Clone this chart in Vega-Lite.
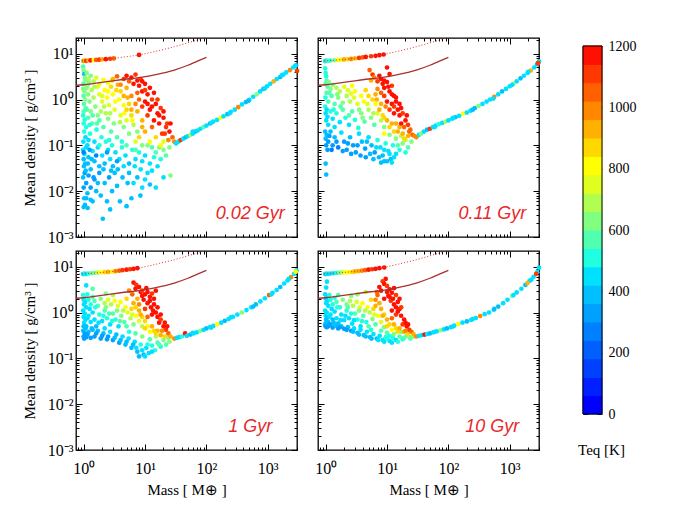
{
"$schema":"https://vega.github.io/schema/vega-lite/v6.json",
"padding":{"left":21,"top":31,"right":5,"bottom":5},
"background":"white",
"datasets":{
"bins":[
{"lo":0,"hi":60,"c":30},{"lo":60,"hi":120,"c":90},{"lo":120,"hi":180,"c":150},{"lo":180,"hi":240,"c":210},{"lo":240,"hi":300,"c":270},{"lo":300,"hi":360,"c":330},{"lo":360,"hi":420,"c":390},{"lo":420,"hi":480,"c":450},{"lo":480,"hi":540,"c":510},{"lo":540,"hi":600,"c":570},{"lo":600,"hi":660,"c":630},{"lo":660,"hi":720,"c":690},{"lo":720,"hi":780,"c":750},{"lo":780,"hi":840,"c":810},{"lo":840,"hi":900,"c":870},{"lo":900,"hi":960,"c":930},{"lo":960,"hi":1020,"c":990},{"lo":1020,"hi":1080,"c":1050},{"lo":1080,"hi":1140,"c":1110},{"lo":1140,"hi":1200,"c":1170}
],
"lines":[
{"k":"s","m":0.75,"d":2.05},{"k":"s","m":1,"d":2.1},{"k":"s","m":1.5,"d":2.25},{"k":"s","m":2.4,"d":2.45},{"k":"s","m":4,"d":2.7},{"k":"s","m":8.5,"d":3.05},{"k":"s","m":15,"d":3.5},{"k":"s","m":30,"d":4.4},{"k":"s","m":50,"d":5.6},{"k":"s","m":70,"d":6.8},{"k":"s","m":100,"d":8.3},
{"k":"o","m":0.75,"d":6.8},{"k":"o","m":1,"d":7.0},{"k":"o","m":2,"d":7.5},{"k":"o","m":3,"d":7.9},{"k":"o","m":5,"d":8.6},{"k":"o","m":8,"d":9.4},{"k":"o","m":15,"d":11.3},{"k":"o","m":30,"d":14.2},{"k":"o","m":50,"d":17.3},{"k":"o","m":72,"d":20},{"k":"o","m":100,"d":23.5}
],
"pts":[
{"p":1,"m":0.98,"d":6.9,"t":650},{"p":1,"m":1.0,"d":7.0,"t":1000},{"p":1,"m":1.05,"d":7.0,"t":900},{"p":1,"m":1.1,"d":7.0,"t":1100},{"p":1,"m":1.2,"d":7.1,"t":950},{"p":1,"m":1.3,"d":7.15,"t":1150},{"p":1,"m":1.45,"d":7.25,"t":800},{"p":1,"m":1.6,"d":7.3,"t":1050},{"p":1,"m":1.8,"d":7.4,"t":1100},{"p":1,"m":2.0,"d":7.5,"t":900},{"p":1,"m":2.3,"d":7.6,"t":1150},{"p":1,"m":2.7,"d":7.75,"t":1100},{"p":1,"m":3.1,"d":7.9,"t":1050},{"p":1,"m":8.0,"d":9.4,"t":1150},
{"p":1,"m":0.98,"d":5.2,"t":550},{"p":1,"m":1.0,"d":4.3,"t":650},{"p":1,"m":1.02,"d":3.6,"t":400},{"p":1,"m":1.05,"d":3.0,"t":620},{"p":1,"m":1.08,"d":2.6,"t":600},{"p":1,"m":1.12,"d":3.8,"t":650},{"p":1,"m":1.2,"d":2.8,"t":700},{"p":1,"m":1.3,"d":3.3,"t":650},{"p":1,"m":1.45,"d":2.5,"t":700},{"p":1,"m":1.6,"d":3.0,"t":750},{"p":1,"m":1.8,"d":2.2,"t":720},{"p":1,"m":2.1,"d":2.7,"t":780},{"p":1,"m":2.5,"d":2.3,"t":800},{"p":1,"m":0.99,"d":2.2,"t":580},{"p":1,"m":1.15,"d":2.0,"t":600},{"p":1,"m":2.9,"d":2.6,"t":850},
{"p":1,"m":0.98,"d":1.7,"t":600},{"p":1,"m":1.0,"d":1.2,"t":580},{"p":1,"m":1.01,"d":0.8,"t":560},{"p":1,"m":1.03,"d":1.5,"t":620},{"p":1,"m":1.05,"d":1.0,"t":600},{"p":1,"m":1.08,"d":0.65,"t":560},{"p":1,"m":1.12,"d":1.8,"t":650},{"p":1,"m":1.18,"d":1.3,"t":640},{"p":1,"m":1.25,"d":0.9,"t":620},{"p":1,"m":1.35,"d":1.6,"t":700},{"p":1,"m":1.45,"d":1.1,"t":680},{"p":1,"m":1.55,"d":0.7,"t":640},{"p":1,"m":1.7,"d":1.9,"t":760},{"p":1,"m":1.8,"d":1.3,"t":740},{"p":1,"m":2.0,"d":0.9,"t":720},{"p":1,"m":2.2,"d":1.6,"t":800},{"p":1,"m":2.4,"d":1.1,"t":780},{"p":1,"m":2.6,"d":0.75,"t":720},{"p":1,"m":2.8,"d":1.9,"t":850},{"p":1,"m":3.0,"d":1.3,"t":820},{"p":1,"m":3.3,"d":0.9,"t":780},{"p":1,"m":1.0,"d":0.55,"t":540},{"p":1,"m":1.3,"d":0.55,"t":600},{"p":1,"m":1.9,"d":0.55,"t":680},{"p":1,"m":2.3,"d":0.5,"t":700},{"p":1,"m":3.6,"d":2.1,"t":900},{"p":1,"m":4.0,"d":1.5,"t":880},{"p":1,"m":3.8,"d":1.0,"t":830},{"p":1,"m":4.5,"d":0.75,"t":820},{"p":1,"m":5.2,"d":1.1,"t":900},
{"p":1,"m":0.98,"d":0.45,"t":520},{"p":1,"m":1.0,"d":0.3,"t":500},{"p":1,"m":1.02,"d":0.2,"t":480},{"p":1,"m":1.04,"d":0.36,"t":530},{"p":1,"m":1.07,"d":0.15,"t":470},{"p":1,"m":1.1,"d":0.25,"t":510},{"p":1,"m":1.18,"d":0.4,"t":560},{"p":1,"m":1.27,"d":0.18,"t":480},{"p":1,"m":1.38,"d":0.3,"t":540},{"p":1,"m":1.5,"d":0.12,"t":460},{"p":1,"m":1.62,"d":0.22,"t":520},{"p":1,"m":1.8,"d":0.35,"t":580},{"p":1,"m":1.95,"d":0.15,"t":500},{"p":1,"m":2.1,"d":0.25,"t":560},{"p":1,"m":2.3,"d":0.12,"t":480},{"p":1,"m":2.5,"d":0.38,"t":640},{"p":1,"m":2.8,"d":0.2,"t":560},{"p":1,"m":3.1,"d":0.3,"t":620},{"p":1,"m":3.5,"d":0.15,"t":540},{"p":1,"m":4.0,"d":0.45,"t":720},{"p":1,"m":4.5,"d":0.25,"t":650},{"p":1,"m":5.0,"d":0.35,"t":720},{"p":1,"m":5.5,"d":0.18,"t":600},{"p":1,"m":6.5,"d":0.28,"t":700},{"p":1,"m":7.5,"d":0.2,"t":650},{"p":1,"m":0.99,"d":0.12,"t":440},{"p":1,"m":1.15,"d":0.1,"t":450},{"p":1,"m":1.25,"d":0.28,"t":520},{"p":1,"m":1.7,"d":0.45,"t":620},{"p":1,"m":2.6,"d":0.13,"t":500},{"p":1,"m":4.2,"d":0.12,"t":520},
{"p":1,"m":0.98,"d":0.08,"t":420},{"p":1,"m":1.0,"d":0.05,"t":400},{"p":1,"m":1.01,"d":0.035,"t":380},{"p":1,"m":1.03,"d":0.065,"t":430},{"p":1,"m":1.06,"d":0.04,"t":390},{"p":1,"m":1.1,"d":0.09,"t":440},{"p":1,"m":1.2,"d":0.055,"t":410},{"p":1,"m":1.3,"d":0.03,"t":370},{"p":1,"m":1.4,"d":0.075,"t":430},{"p":1,"m":1.5,"d":0.045,"t":400},{"p":1,"m":1.7,"d":0.09,"t":450},{"p":1,"m":1.8,"d":0.035,"t":380},{"p":1,"m":2.0,"d":0.06,"t":420},{"p":1,"m":2.2,"d":0.04,"t":390},{"p":1,"m":2.5,"d":0.08,"t":440},{"p":1,"m":2.7,"d":0.05,"t":420},{"p":1,"m":3.0,"d":0.035,"t":380},{"p":1,"m":3.3,"d":0.07,"t":450},{"p":1,"m":3.8,"d":0.05,"t":420},{"p":1,"m":4.2,"d":0.09,"t":480},{"p":1,"m":4.8,"d":0.06,"t":440},{"p":1,"m":5.5,"d":0.04,"t":400},{"p":1,"m":6.2,"d":0.08,"t":480},{"p":1,"m":7.0,"d":0.05,"t":430},{"p":1,"m":8.0,"d":0.07,"t":480},{"p":1,"m":9.0,"d":0.045,"t":420},{"p":1,"m":10,"d":0.06,"t":470},{"p":1,"m":12,"d":0.04,"t":430},{"p":1,"m":14,"d":0.055,"t":500},{"p":1,"m":16,"d":0.035,"t":420},{"p":1,"m":1.0,"d":0.07,"t":250},{"p":1,"m":1.25,"d":0.08,"t":300},{"p":1,"m":2.4,"d":0.07,"t":330},{"p":1,"m":1.6,"d":0.06,"t":280},{"p":1,"m":3.5,"d":0.045,"t":300},
{"p":1,"m":0.98,"d":0.02,"t":360},{"p":1,"m":1.0,"d":0.012,"t":330},{"p":1,"m":1.02,"d":0.007,"t":380},{"p":1,"m":1.04,"d":0.025,"t":350},{"p":1,"m":1.05,"d":0.005,"t":400},{"p":1,"m":1.1,"d":0.015,"t":340},{"p":1,"m":1.15,"d":0.009,"t":370},{"p":1,"m":1.2,"d":0.022,"t":300},{"p":1,"m":1.3,"d":0.012,"t":350},{"p":1,"m":1.4,"d":0.006,"t":390},{"p":1,"m":1.5,"d":0.018,"t":330},{"p":1,"m":1.6,"d":0.01,"t":370},{"p":1,"m":1.8,"d":0.025,"t":320},{"p":1,"m":1.9,"d":0.008,"t":380},{"p":1,"m":2.05,"d":0.0025,"t":400},{"p":1,"m":2.2,"d":0.015,"t":360},{"p":1,"m":2.4,"d":0.006,"t":410},{"p":1,"m":2.6,"d":0.02,"t":350},{"p":1,"m":2.9,"d":0.01,"t":380},{"p":1,"m":3.2,"d":0.025,"t":370},{"p":1,"m":3.5,"d":0.013,"t":400},{"p":1,"m":3.9,"d":0.006,"t":410},{"p":1,"m":4.3,"d":0.02,"t":380},{"p":1,"m":5.0,"d":0.0047,"t":400},{"p":1,"m":5.5,"d":0.025,"t":390},{"p":1,"m":6.5,"d":0.015,"t":420},{"p":1,"m":7.5,"d":0.02,"t":400},{"p":1,"m":8.4,"d":0.008,"t":400},{"p":1,"m":9,"d":0.012,"t":420},{"p":1,"m":11,"d":0.025,"t":430},{"p":1,"m":1.16,"d":0.0043,"t":390},{"p":1,"m":1.0,"d":0.0045,"t":400},{"p":1,"m":12,"d":0.014,"t":410},{"p":1,"m":15,"d":0.012,"t":430},{"p":1,"m":20,"d":0.02,"t":450},{"p":1,"m":26,"d":0.022,"t":600},{"p":1,"m":6,"d":0.007,"t":380},
{"p":1,"m":1.08,"d":0.028,"t":360},{"p":1,"m":1.17,"d":0.04,"t":380},{"p":1,"m":1.35,"d":0.05,"t":400},{"p":1,"m":1.45,"d":0.02,"t":350},{"p":1,"m":1.7,"d":0.015,"t":380},{"p":1,"m":2.1,"d":0.03,"t":360},{"p":1,"m":2.8,"d":0.028,"t":400},{"p":1,"m":3.6,"d":0.03,"t":380},{"p":1,"m":4.5,"d":0.035,"t":420},{"p":1,"m":5.2,"d":0.015,"t":400},{"p":1,"m":6.8,"d":0.035,"t":440},{"p":1,"m":8.5,"d":0.03,"t":430},{"p":1,"m":10,"d":0.018,"t":420},{"p":1,"m":13,"d":0.028,"t":460},{"p":1,"m":1.1,"d":0.007,"t":400},{"p":1,"m":1.3,"d":0.0065,"t":410},{"p":1,"m":2.7,"d":0.004,"t":400},
{"p":1,"m":1.2,"d":0.13,"t":470},{"p":1,"m":1.8,"d":0.1,"t":480},{"p":1,"m":2.9,"d":0.1,"t":500},{"p":1,"m":5,"d":0.1,"t":540},{"p":1,"m":7,"d":0.08,"t":560},{"p":1,"m":9,"d":0.1,"t":600},
{"p":1,"m":1.12,"d":0.6,"t":580},{"p":1,"m":1.22,"d":2.3,"t":640},{"p":1,"m":1.4,"d":0.45,"t":560},{"p":1,"m":1.5,"d":1.9,"t":700},{"p":1,"m":1.65,"d":0.3,"t":540},{"p":1,"m":2.0,"d":1.2,"t":740},{"p":1,"m":2.15,"d":0.7,"t":690},{"p":1,"m":2.5,"d":1.5,"t":820},{"p":1,"m":2.7,"d":0.5,"t":680},{"p":1,"m":3.2,"d":0.6,"t":740},{"p":1,"m":3.4,"d":1.6,"t":880},{"p":1,"m":3.9,"d":0.32,"t":680},{"p":1,"m":4.6,"d":0.5,"t":780},{"p":1,"m":5.5,"d":0.8,"t":880},{"p":1,"m":6.2,"d":0.35,"t":780},
{"p":1,"m":15,"d":0.07,"t":550},{"p":1,"m":18,"d":0.05,"t":500},{"p":1,"m":20,"d":0.08,"t":600},{"p":1,"m":22,"d":0.06,"t":550},{"p":1,"m":25,"d":0.09,"t":650},{"p":1,"m":17,"d":0.09,"t":600},{"p":1,"m":13,"d":0.09,"t":580},{"p":1,"m":11,"d":0.1,"t":620},
{"p":1,"m":8,"d":0.15,"t":850},{"p":1,"m":10,"d":0.2,"t":900},{"p":1,"m":12,"d":0.12,"t":800},{"p":1,"m":15,"d":0.15,"t":850},{"p":1,"m":18,"d":0.1,"t":800},{"p":1,"m":20,"d":0.12,"t":750},{"p":1,"m":7,"d":0.12,"t":750},{"p":1,"m":6,"d":0.45,"t":850},{"p":1,"m":9,"d":0.25,"t":900},{"p":1,"m":5,"d":0.6,"t":880},{"p":1,"m":7.5,"d":0.55,"t":900},{"p":1,"m":4.5,"d":1.2,"t":950},
{"p":1,"m":4.5,"d":2.8,"t":1100},{"p":1,"m":5,"d":3.3,"t":1150},{"p":1,"m":5.5,"d":2.5,"t":1050},{"p":1,"m":6,"d":3.0,"t":1200},{"p":1,"m":6.5,"d":2.2,"t":1150},{"p":1,"m":7,"d":3.5,"t":1100},{"p":1,"m":7.5,"d":2.6,"t":1200},{"p":1,"m":8,"d":2.0,"t":1150},{"p":1,"m":8.5,"d":2.8,"t":1100},{"p":1,"m":9,"d":1.5,"t":1200},{"p":1,"m":10,"d":2.2,"t":1150},{"p":1,"m":11,"d":1.3,"t":1150},{"p":1,"m":12,"d":1.8,"t":1200},{"p":1,"m":13,"d":1.0,"t":1100},{"p":1,"m":14,"d":1.4,"t":1150},{"p":1,"m":10,"d":0.9,"t":1150},{"p":1,"m":9,"d":0.7,"t":1100},{"p":1,"m":8,"d":1.0,"t":1050},{"p":1,"m":7,"d":0.8,"t":1000},{"p":1,"m":12,"d":0.6,"t":1150},{"p":1,"m":15,"d":0.8,"t":1200},{"p":1,"m":16,"d":0.5,"t":1150},{"p":1,"m":18,"d":0.65,"t":1100},{"p":1,"m":11,"d":0.45,"t":1100},{"p":1,"m":14,"d":0.35,"t":1150},{"p":1,"m":17,"d":0.3,"t":1200},{"p":1,"m":20,"d":0.4,"t":1150},{"p":1,"m":22,"d":0.25,"t":1100},{"p":1,"m":25,"d":0.2,"t":1150},{"p":1,"m":28,"d":0.15,"t":1050},{"p":1,"m":19,"d":0.18,"t":1100},{"p":1,"m":24,"d":0.13,"t":1000},{"p":1,"m":30,"d":0.12,"t":1000},{"p":1,"m":13,"d":0.25,"t":1050},{"p":1,"m":6,"d":1.2,"t":1000},{"p":1,"m":5,"d":1.8,"t":950},{"p":1,"m":6,"d":0.6,"t":950},{"p":1,"m":9,"d":0.35,"t":950},{"p":1,"m":20,"d":0.55,"t":1200},{"p":1,"m":23,"d":0.3,"t":1100},{"p":1,"m":16,"d":1.0,"t":1100},{"p":1,"m":7.5,"d":1.4,"t":1050},{"p":1,"m":4,"d":2.1,"t":1000},{"p":1,"m":3.5,"d":3.2,"t":1050},{"p":1,"m":3,"d":2.8,"t":950},{"p":1,"m":9,"d":2.5,"t":1150},
{"p":1,"m":11,"d":0.8,"t":1200},{"p":1,"m":13,"d":0.7,"t":1150},{"p":1,"m":17,"d":0.45,"t":1150},{"p":1,"m":21,"d":0.18,"t":1100},{"p":1,"m":26,"d":0.3,"t":1200},{"p":1,"m":10,"d":1.6,"t":1100},
{"p":1,"m":32,"d":0.11,"t":450},{"p":1,"m":35,"d":0.12,"t":420},{"p":1,"m":38,"d":0.13,"t":1100},{"p":1,"m":42,"d":0.14,"t":450},{"p":1,"m":46,"d":0.15,"t":400},{"p":1,"m":50,"d":0.16,"t":420},{"p":1,"m":55,"d":0.17,"t":700},{"p":1,"m":60,"d":0.18,"t":430},{"p":1,"m":66,"d":0.2,"t":380},{"p":1,"m":72,"d":0.21,"t":450},{"p":1,"m":80,"d":0.23,"t":420},{"p":1,"m":90,"d":0.25,"t":550},{"p":1,"m":100,"d":0.27,"t":430},{"p":1,"m":115,"d":0.3,"t":400},{"p":1,"m":130,"d":0.33,"t":450},{"p":1,"m":150,"d":0.36,"t":420},{"p":1,"m":170,"d":0.4,"t":800},{"p":1,"m":190,"d":0.43,"t":430},{"p":1,"m":220,"d":0.48,"t":400},{"p":1,"m":250,"d":0.54,"t":440},{"p":1,"m":290,"d":0.6,"t":420},{"p":1,"m":330,"d":0.68,"t":1000},{"p":1,"m":380,"d":0.78,"t":430},{"p":1,"m":440,"d":0.88,"t":400},{"p":1,"m":500,"d":0.98,"t":450},{"p":1,"m":580,"d":1.15,"t":420},{"p":1,"m":660,"d":1.3,"t":600},{"p":1,"m":750,"d":1.5,"t":430},{"p":1,"m":850,"d":1.7,"t":400},{"p":1,"m":970,"d":1.95,"t":450},{"p":1,"m":1100,"d":2.2,"t":420},{"p":1,"m":1250,"d":2.5,"t":900},{"p":1,"m":1400,"d":2.8,"t":430},{"p":1,"m":1600,"d":3.1,"t":400},{"p":1,"m":1800,"d":3.5,"t":450},{"p":1,"m":2000,"d":3.9,"t":420},{"p":1,"m":2300,"d":4.4,"t":1000},{"p":1,"m":2600,"d":5.0,"t":430},{"p":1,"m":2900,"d":5.6,"t":400},{"p":1,"m":3000,"d":4.2,"t":1100},{"p":1,"m":2800,"d":5.4,"t":450},
{"p":1,"m":60,"d":0.2,"t":450},{"p":1,"m":120,"d":0.31,"t":420},{"p":1,"m":240,"d":0.5,"t":430},{"p":1,"m":480,"d":0.93,"t":400},{"p":1,"m":900,"d":1.75,"t":440},{"p":1,"m":1700,"d":3.4,"t":420},

{"p":2,"m":0.98,"d":6.9,"t":450},{"p":2,"m":1.0,"d":7.0,"t":500},{"p":2,"m":1.05,"d":7.0,"t":450},{"p":2,"m":1.1,"d":7.0,"t":550},{"p":2,"m":1.2,"d":7.1,"t":480},{"p":2,"m":1.4,"d":7.2,"t":650},{"p":2,"m":1.6,"d":7.3,"t":800},{"p":2,"m":1.8,"d":7.4,"t":750},{"p":2,"m":2.0,"d":7.5,"t":900},{"p":2,"m":2.3,"d":7.6,"t":850},{"p":2,"m":2.6,"d":7.7,"t":1000},{"p":2,"m":3.0,"d":7.9,"t":950},{"p":2,"m":3.5,"d":8.1,"t":1100},{"p":2,"m":4.0,"d":8.3,"t":1050},{"p":2,"m":4.5,"d":8.5,"t":1150},{"p":2,"m":5.5,"d":8.8,"t":1100},{"p":2,"m":6.5,"d":9.0,"t":1200},{"p":2,"m":7.5,"d":9.3,"t":1150},{"p":2,"m":8.8,"d":9.6,"t":1200},
{"p":2,"m":0.98,"d":4.8,"t":500},{"p":2,"m":1.0,"d":3.8,"t":520},{"p":2,"m":1.02,"d":3.2,"t":480},{"p":2,"m":1.04,"d":2.6,"t":560},{"p":2,"m":1.0,"d":2.2,"t":540},{"p":2,"m":1.08,"d":1.9,"t":580},{"p":2,"m":1.12,"d":2.4,"t":600},{"p":2,"m":1.2,"d":1.7,"t":620},{"p":2,"m":1.3,"d":2.1,"t":640},{"p":2,"m":1.5,"d":1.8,"t":680},{"p":2,"m":1.7,"d":1.5,"t":700},{"p":2,"m":2.0,"d":1.9,"t":720},{"p":2,"m":2.3,"d":1.6,"t":760},{"p":2,"m":2.7,"d":2.0,"t":780},{"p":2,"m":3.0,"d":1.5,"t":800},{"p":2,"m":1.03,"d":1.4,"t":540},{"p":2,"m":0.99,"d":1.1,"t":520},{"p":2,"m":1.1,"d":0.9,"t":540},{"p":2,"m":1.25,"d":1.2,"t":580},{"p":2,"m":1.4,"d":0.8,"t":560},{"p":2,"m":1.6,"d":1.1,"t":620},{"p":2,"m":1.9,"d":0.85,"t":640},{"p":2,"m":2.2,"d":1.2,"t":700},{"p":2,"m":2.5,"d":0.9,"t":680},{"p":2,"m":2.9,"d":1.1,"t":740},{"p":2,"m":3.3,"d":0.8,"t":720},{"p":2,"m":3.8,"d":1.2,"t":800},{"p":2,"m":4.2,"d":0.9,"t":780},{"p":2,"m":4.5,"d":1.6,"t":850},{"p":2,"m":5,"d":1.2,"t":850},
{"p":2,"m":0.98,"d":0.7,"t":480},{"p":2,"m":1.0,"d":0.5,"t":460},{"p":2,"m":1.02,"d":0.35,"t":440},{"p":2,"m":1.04,"d":0.6,"t":470},{"p":2,"m":1.07,"d":0.42,"t":450},{"p":2,"m":1.1,"d":0.28,"t":420},{"p":2,"m":1.2,"d":0.55,"t":480},{"p":2,"m":1.3,"d":0.38,"t":450},{"p":2,"m":1.4,"d":0.25,"t":420},{"p":2,"m":1.5,"d":0.5,"t":500},{"p":2,"m":1.7,"d":0.32,"t":460},{"p":2,"m":1.9,"d":0.6,"t":540},{"p":2,"m":2.1,"d":0.4,"t":500},{"p":2,"m":2.4,"d":0.28,"t":460},{"p":2,"m":2.7,"d":0.55,"t":580},{"p":2,"m":3.0,"d":0.36,"t":520},{"p":2,"m":3.4,"d":0.24,"t":480},{"p":2,"m":3.8,"d":0.5,"t":620},{"p":2,"m":4.3,"d":0.33,"t":560},{"p":2,"m":5.0,"d":0.6,"t":700},{"p":2,"m":5.5,"d":0.4,"t":640},{"p":2,"m":6.2,"d":0.28,"t":580},{"p":2,"m":7.0,"d":0.5,"t":720},{"p":2,"m":8.0,"d":0.35,"t":700},{"p":2,"m":9.0,"d":0.25,"t":650},{"p":2,"m":6.5,"d":0.8,"t":820},{"p":2,"m":5.8,"d":1.0,"t":880},
{"p":2,"m":1.15,"d":1.4,"t":560},{"p":2,"m":1.35,"d":0.6,"t":500},{"p":2,"m":1.55,"d":1.3,"t":620},{"p":2,"m":1.75,"d":0.7,"t":560},{"p":2,"m":2.4,"d":0.45,"t":540},{"p":2,"m":2.6,"d":1.35,"t":720},{"p":2,"m":3.5,"d":0.6,"t":640},{"p":2,"m":4.0,"d":0.4,"t":600},{"p":2,"m":4.8,"d":0.8,"t":760},{"p":2,"m":6,"d":0.5,"t":700},
{"p":2,"m":0.98,"d":0.2,"t":400},{"p":2,"m":1.0,"d":0.14,"t":380},{"p":2,"m":1.02,"d":0.1,"t":350},{"p":2,"m":1.04,"d":0.17,"t":390},{"p":2,"m":1.07,"d":0.08,"t":300},{"p":2,"m":1.1,"d":0.12,"t":330},{"p":2,"m":1.2,"d":0.2,"t":410},{"p":2,"m":1.3,"d":0.1,"t":300},{"p":2,"m":1.4,"d":0.15,"t":360},{"p":2,"m":1.6,"d":0.09,"t":280},{"p":2,"m":1.8,"d":0.19,"t":420},{"p":2,"m":2.0,"d":0.12,"t":340},{"p":2,"m":2.2,"d":0.08,"t":300},{"p":2,"m":2.5,"d":0.15,"t":400},{"p":2,"m":2.8,"d":0.1,"t":330},{"p":2,"m":3.1,"d":0.07,"t":300},{"p":2,"m":3.5,"d":0.18,"t":450},{"p":2,"m":3.9,"d":0.12,"t":380},{"p":2,"m":4.4,"d":0.085,"t":340},{"p":2,"m":5.0,"d":0.15,"t":450},{"p":2,"m":5.6,"d":0.1,"t":400},{"p":2,"m":6.3,"d":0.07,"t":350},{"p":2,"m":7.0,"d":0.13,"t":480},{"p":2,"m":7.8,"d":0.09,"t":420},{"p":2,"m":8.5,"d":0.06,"t":380},{"p":2,"m":9.5,"d":0.11,"t":500},{"p":2,"m":10.5,"d":0.075,"t":420},{"p":2,"m":11.5,"d":0.05,"t":400},{"p":2,"m":12.5,"d":0.1,"t":520},{"p":2,"m":14,"d":0.065,"t":450},{"p":2,"m":16,"d":0.08,"t":500},{"p":2,"m":18,"d":0.11,"t":600},{"p":2,"m":20,"d":0.07,"t":480},{"p":2,"m":22,"d":0.09,"t":560},{"p":2,"m":10,"d":0.045,"t":380},{"p":2,"m":8,"d":0.042,"t":400},{"p":2,"m":6,"d":0.05,"t":360},{"p":2,"m":12,"d":0.042,"t":420},{"p":2,"m":1.0,"d":0.04,"t":380},{"p":2,"m":1.02,"d":0.023,"t":400},{"p":2,"m":4.5,"d":0.055,"t":330},{"p":2,"m":14,"d":0.14,"t":620},{"p":2,"m":17,"d":0.16,"t":680},{"p":2,"m":25,"d":0.12,"t":640},{"p":2,"m":20,"d":0.13,"t":700},{"p":2,"m":11,"d":0.17,"t":600},
{"p":2,"m":1.15,"d":0.16,"t":350},{"p":2,"m":1.25,"d":0.08,"t":280},{"p":2,"m":1.5,"d":0.12,"t":320},{"p":2,"m":1.9,"d":0.075,"t":300},{"p":2,"m":2.3,"d":0.11,"t":340},{"p":2,"m":2.6,"d":0.065,"t":300},{"p":2,"m":3.3,"d":0.1,"t":350},{"p":2,"m":3.7,"d":0.06,"t":320},{"p":2,"m":4.7,"d":0.12,"t":400},{"p":2,"m":5.3,"d":0.065,"t":360},{"p":2,"m":6.7,"d":0.09,"t":420},{"p":2,"m":7.4,"d":0.055,"t":380},{"p":2,"m":9,"d":0.08,"t":450},{"p":2,"m":11,"d":0.065,"t":430},{"p":2,"m":13,"d":0.055,"t":440},{"p":2,"m":15,"d":0.1,"t":540},{"p":2,"m":9,"d":0.045,"t":400},
{"p":2,"m":7.5,"d":0.6,"t":900},{"p":2,"m":8.5,"d":0.45,"t":880},{"p":2,"m":10,"d":0.35,"t":900},{"p":2,"m":11,"d":0.25,"t":850},{"p":2,"m":13,"d":0.2,"t":880},{"p":2,"m":15,"d":0.2,"t":950},{"p":2,"m":9,"d":0.18,"t":800},{"p":2,"m":18,"d":0.18,"t":900},{"p":2,"m":22,"d":0.16,"t":900},{"p":2,"m":12,"d":0.3,"t":950},{"p":2,"m":6.8,"d":1.0,"t":900},{"p":2,"m":8,"d":0.8,"t":950},{"p":2,"m":9,"d":0.4,"t":880},{"p":2,"m":14,"d":0.3,"t":950},{"p":2,"m":16,"d":0.25,"t":900},{"p":2,"m":19,"d":0.14,"t":850},
{"p":2,"m":5.2,"d":4.4,"t":1050},{"p":2,"m":5.8,"d":3.5,"t":1100},{"p":2,"m":6.2,"d":3.0,"t":1000},{"p":2,"m":5.5,"d":2.6,"t":950},{"p":2,"m":7,"d":2.5,"t":1100},{"p":2,"m":7.5,"d":3.3,"t":1150},{"p":2,"m":8,"d":2.8,"t":1200},{"p":2,"m":8.5,"d":2.2,"t":1150},{"p":2,"m":9,"d":1.8,"t":1200},{"p":2,"m":10,"d":2.4,"t":1150},{"p":2,"m":11,"d":1.5,"t":1200},{"p":2,"m":12,"d":2.0,"t":1100},{"p":2,"m":13,"d":1.2,"t":1150},{"p":2,"m":9,"d":1.2,"t":1100},{"p":2,"m":10,"d":0.9,"t":1150},{"p":2,"m":12,"d":0.8,"t":1200},{"p":2,"m":14,"d":0.9,"t":1150},{"p":2,"m":15,"d":0.6,"t":1200},{"p":2,"m":16,"d":0.45,"t":1150},{"p":2,"m":18,"d":0.5,"t":1100},{"p":2,"m":13,"d":0.5,"t":1150},{"p":2,"m":11,"d":0.6,"t":1100},{"p":2,"m":20,"d":0.35,"t":1150},{"p":2,"m":22,"d":0.28,"t":1100},{"p":2,"m":24,"d":0.22,"t":1050},{"p":2,"m":17,"d":0.3,"t":1150},{"p":2,"m":26,"d":0.17,"t":1050},{"p":2,"m":28,"d":0.16,"t":1000},{"p":2,"m":19,"d":0.25,"t":1050},{"p":2,"m":8,"d":1.4,"t":1050},{"p":2,"m":7,"d":1.7,"t":1000},{"p":2,"m":6.5,"d":1.3,"t":950},{"p":2,"m":9.5,"d":0.7,"t":1000},{"p":2,"m":16,"d":0.8,"t":1200},{"p":2,"m":11,"d":3.6,"t":1150},{"p":2,"m":10,"d":5.0,"t":1150},
{"p":2,"m":9,"d":2.6,"t":1200},{"p":2,"m":12,"d":1.3,"t":1150},{"p":2,"m":14,"d":1.1,"t":1200},{"p":2,"m":17,"d":0.65,"t":1150},{"p":2,"m":21,"d":0.45,"t":1200},{"p":2,"m":23,"d":0.2,"t":1050},{"p":2,"m":10.5,"d":1.9,"t":1150},{"p":2,"m":13,"d":0.7,"t":1100},
{"p":2,"m":30,"d":0.15,"t":1000},{"p":2,"m":33,"d":0.17,"t":450},{"p":2,"m":36,"d":0.18,"t":600},{"p":2,"m":40,"d":0.2,"t":430},{"p":2,"m":45,"d":0.22,"t":400},{"p":2,"m":50,"d":0.23,"t":1100},{"p":2,"m":56,"d":0.25,"t":450},{"p":2,"m":62,"d":0.27,"t":420},{"p":2,"m":70,"d":0.29,"t":500},{"p":2,"m":80,"d":0.31,"t":430},{"p":2,"m":90,"d":0.33,"t":700},{"p":2,"m":100,"d":0.35,"t":420},{"p":2,"m":115,"d":0.38,"t":450},{"p":2,"m":130,"d":0.41,"t":400},{"p":2,"m":150,"d":0.44,"t":430},{"p":2,"m":175,"d":0.49,"t":800},{"p":2,"m":200,"d":0.52,"t":420},{"p":2,"m":230,"d":0.57,"t":450},{"p":2,"m":270,"d":0.65,"t":400},{"p":2,"m":310,"d":0.72,"t":600},{"p":2,"m":360,"d":0.8,"t":430},{"p":2,"m":420,"d":0.9,"t":420},{"p":2,"m":480,"d":1.0,"t":450},{"p":2,"m":560,"d":1.15,"t":1000},{"p":2,"m":650,"d":1.3,"t":430},{"p":2,"m":750,"d":1.5,"t":400},{"p":2,"m":870,"d":1.7,"t":450},{"p":2,"m":1000,"d":1.95,"t":420},{"p":2,"m":1150,"d":2.2,"t":700},{"p":2,"m":1300,"d":2.5,"t":430},{"p":2,"m":1500,"d":2.9,"t":400},{"p":2,"m":1700,"d":3.3,"t":450},{"p":2,"m":1950,"d":3.8,"t":420},{"p":2,"m":2200,"d":4.3,"t":900},{"p":2,"m":2500,"d":5.0,"t":430},{"p":2,"m":2800,"d":5.9,"t":400},{"p":2,"m":3000,"d":6.8,"t":450},{"p":2,"m":2900,"d":6.2,"t":1100},
{"p":2,"m":60,"d":0.25,"t":430},{"p":2,"m":120,"d":0.4,"t":420},{"p":2,"m":250,"d":0.6,"t":400},{"p":2,"m":540,"d":1.05,"t":430},{"p":2,"m":1100,"d":2.1,"t":450},{"p":2,"m":2000,"d":4.0,"t":420},

{"p":3,"m":0.98,"d":6.9,"t":450},{"p":3,"m":1.0,"d":7.0,"t":420},{"p":3,"m":1.05,"d":7.0,"t":480},{"p":3,"m":1.1,"d":7.0,"t":450},{"p":3,"m":1.2,"d":7.1,"t":500},{"p":3,"m":1.35,"d":7.2,"t":550},{"p":3,"m":1.5,"d":7.3,"t":650},{"p":3,"m":1.7,"d":7.4,"t":700},{"p":3,"m":1.9,"d":7.5,"t":800},{"p":3,"m":2.2,"d":7.6,"t":850},{"p":3,"m":2.5,"d":7.7,"t":900},{"p":3,"m":2.9,"d":7.8,"t":800},{"p":3,"m":3.3,"d":8.0,"t":1000},{"p":3,"m":3.8,"d":8.2,"t":1050},{"p":3,"m":4.3,"d":8.4,"t":1100},{"p":3,"m":5.0,"d":8.6,"t":1150},{"p":3,"m":5.7,"d":8.8,"t":1100},{"p":3,"m":6.5,"d":9.0,"t":1200},{"p":3,"m":7.5,"d":9.3,"t":1150},
{"p":3,"m":0.98,"d":2.4,"t":480},{"p":3,"m":1.0,"d":1.9,"t":460},{"p":3,"m":1.01,"d":1.5,"t":470},{"p":3,"m":1.03,"d":2.1,"t":490},{"p":3,"m":1.06,"d":1.7,"t":450},{"p":3,"m":1.1,"d":1.3,"t":460},{"p":3,"m":1.15,"d":2.5,"t":500},{"p":3,"m":1.2,"d":1.9,"t":520},{"p":3,"m":1.3,"d":1.5,"t":500},{"p":3,"m":1.4,"d":2.2,"t":560},{"p":3,"m":1.5,"d":1.8,"t":580},{"p":3,"m":1.7,"d":1.4,"t":560},{"p":3,"m":1.9,"d":2.0,"t":640},{"p":3,"m":2.2,"d":1.6,"t":660},{"p":3,"m":2.5,"d":1.9,"t":720},{"p":3,"m":2.8,"d":1.5,"t":700},{"p":3,"m":3.2,"d":1.8,"t":780},{"p":3,"m":3.6,"d":1.4,"t":760},{"p":3,"m":4.0,"d":1.7,"t":820},{"p":3,"m":1.1,"d":3.9,"t":450},{"p":3,"m":1.4,"d":3.3,"t":560},{"p":3,"m":2.3,"d":2.6,"t":640},{"p":3,"m":3.0,"d":2.4,"t":700},
{"p":3,"m":0.98,"d":1.1,"t":440},{"p":3,"m":1.0,"d":0.8,"t":430},{"p":3,"m":1.02,"d":0.6,"t":420},{"p":3,"m":1.04,"d":0.95,"t":440},{"p":3,"m":1.07,"d":0.7,"t":420},{"p":3,"m":1.1,"d":0.5,"t":400},{"p":3,"m":1.2,"d":0.85,"t":440},{"p":3,"m":1.3,"d":0.62,"t":420},{"p":3,"m":1.4,"d":1.0,"t":470},{"p":3,"m":1.5,"d":0.7,"t":440},{"p":3,"m":1.6,"d":0.5,"t":410},{"p":3,"m":1.8,"d":0.9,"t":480},{"p":3,"m":2.0,"d":0.65,"t":450},{"p":3,"m":2.2,"d":1.1,"t":540},{"p":3,"m":2.4,"d":0.75,"t":480},{"p":3,"m":2.7,"d":0.55,"t":440},{"p":3,"m":3.0,"d":0.95,"t":560},{"p":3,"m":3.3,"d":0.7,"t":500},{"p":3,"m":3.7,"d":0.5,"t":460},{"p":3,"m":4.1,"d":0.85,"t":600},{"p":3,"m":4.6,"d":0.62,"t":540},{"p":3,"m":5.2,"d":1.0,"t":720},{"p":3,"m":5.8,"d":0.75,"t":660},{"p":3,"m":6.5,"d":0.55,"t":600},{"p":3,"m":7.2,"d":0.85,"t":800},{"p":3,"m":8.0,"d":0.65,"t":750},{"p":3,"m":9.0,"d":0.5,"t":700},{"p":3,"m":4.8,"d":1.3,"t":800},{"p":3,"m":6.0,"d":1.2,"t":850},
{"p":3,"m":1.15,"d":0.75,"t":430},{"p":3,"m":1.25,"d":1.2,"t":470},{"p":3,"m":1.35,"d":0.45,"t":400},{"p":3,"m":1.55,"d":1.3,"t":500},{"p":3,"m":1.75,"d":0.6,"t":440},{"p":3,"m":2.1,"d":0.85,"t":480},{"p":3,"m":2.3,"d":1.3,"t":600},{"p":3,"m":2.6,"d":0.95,"t":540},{"p":3,"m":2.9,"d":0.65,"t":480},{"p":3,"m":3.5,"d":1.1,"t":640},{"p":3,"m":3.9,"d":0.65,"t":540},{"p":3,"m":4.4,"d":1.1,"t":700},{"p":3,"m":5.0,"d":0.5,"t":560},{"p":3,"m":5.5,"d":0.38,"t":500},{"p":3,"m":6.2,"d":0.9,"t":760},
{"p":3,"m":0.98,"d":0.4,"t":380},{"p":3,"m":1.0,"d":0.3,"t":320},{"p":3,"m":1.02,"d":0.27,"t":300},{"p":3,"m":1.04,"d":0.35,"t":350},{"p":3,"m":1.07,"d":0.45,"t":400},{"p":3,"m":1.1,"d":0.29,"t":300},{"p":3,"m":1.2,"d":0.38,"t":360},{"p":3,"m":1.3,"d":0.28,"t":320},{"p":3,"m":1.4,"d":0.42,"t":400},{"p":3,"m":1.5,"d":0.3,"t":330},{"p":3,"m":1.7,"d":0.4,"t":400},{"p":3,"m":1.9,"d":0.27,"t":320},{"p":3,"m":2.1,"d":0.35,"t":380},{"p":3,"m":2.4,"d":0.26,"t":330},{"p":3,"m":2.7,"d":0.38,"t":420},{"p":3,"m":3.0,"d":0.25,"t":340},{"p":3,"m":3.4,"d":0.33,"t":400},{"p":3,"m":3.8,"d":0.22,"t":350},{"p":3,"m":4.3,"d":0.3,"t":420},{"p":3,"m":4.8,"d":0.2,"t":360},{"p":3,"m":5.4,"d":0.27,"t":440},{"p":3,"m":6.0,"d":0.17,"t":380},{"p":3,"m":6.8,"d":0.23,"t":450},{"p":3,"m":7.5,"d":0.14,"t":380},{"p":3,"m":8.5,"d":0.2,"t":480},{"p":3,"m":9.5,"d":0.12,"t":400},{"p":3,"m":10.5,"d":0.17,"t":460},{"p":3,"m":11.5,"d":0.13,"t":420},{"p":3,"m":13,"d":0.19,"t":520},{"p":3,"m":14.5,"d":0.15,"t":480},{"p":3,"m":16,"d":0.22,"t":580},{"p":3,"m":18,"d":0.18,"t":520},{"p":3,"m":20,"d":0.25,"t":600},{"p":3,"m":22,"d":0.2,"t":560},{"p":3,"m":25,"d":0.23,"t":650},{"p":3,"m":12,"d":0.26,"t":560},{"p":3,"m":9,"d":0.3,"t":600},{"p":3,"m":7,"d":0.35,"t":560},{"p":3,"m":15,"d":0.3,"t":700},{"p":3,"m":1.0,"d":0.5,"t":400},{"p":3,"m":2.2,"d":0.45,"t":430},{"p":3,"m":8,"d":0.11,"t":400},{"p":3,"m":10,"d":0.11,"t":420},
{"p":3,"m":1.15,"d":0.33,"t":320},{"p":3,"m":1.6,"d":0.35,"t":340},{"p":3,"m":2.0,"d":0.31,"t":330},{"p":3,"m":2.5,"d":0.3,"t":340},{"p":3,"m":3.2,"d":0.28,"t":360},{"p":3,"m":4.0,"d":0.25,"t":380},{"p":3,"m":5.0,"d":0.23,"t":400},{"p":3,"m":6.4,"d":0.2,"t":400},{"p":3,"m":7.2,"d":0.17,"t":420},{"p":3,"m":9,"d":0.15,"t":440},{"p":3,"m":11,"d":0.2,"t":500},{"p":3,"m":13,"d":0.14,"t":460},{"p":3,"m":17,"d":0.2,"t":560},{"p":3,"m":24,"d":0.28,"t":620},
{"p":3,"m":6.5,"d":1.6,"t":900},{"p":3,"m":8,"d":1.1,"t":900},{"p":3,"m":9,"d":0.8,"t":850},{"p":3,"m":10,"d":0.65,"t":880},{"p":3,"m":11,"d":0.5,"t":820},{"p":3,"m":13,"d":0.5,"t":900},{"p":3,"m":14,"d":0.4,"t":850},{"p":3,"m":16,"d":0.4,"t":950},{"p":3,"m":18,"d":0.32,"t":900},{"p":3,"m":21,"d":0.3,"t":850},{"p":3,"m":5,"d":2.0,"t":850},{"p":3,"m":7,"d":1.3,"t":880},{"p":3,"m":12,"d":0.38,"t":780},{"p":3,"m":8.5,"d":0.9,"t":900},{"p":3,"m":10,"d":0.45,"t":850},{"p":3,"m":15,"d":0.35,"t":880},
{"p":3,"m":6.5,"d":4.5,"t":1150},{"p":3,"m":7.2,"d":4.0,"t":1100},{"p":3,"m":7,"d":3.3,"t":1200},{"p":3,"m":8,"d":3.6,"t":1150},{"p":3,"m":8.5,"d":2.8,"t":1200},{"p":3,"m":6.2,"d":2.5,"t":1050},{"p":3,"m":9,"d":3.0,"t":1100},{"p":3,"m":10,"d":2.5,"t":1150},{"p":3,"m":11,"d":2.8,"t":1200},{"p":3,"m":12,"d":2.2,"t":1150},{"p":3,"m":13,"d":2.6,"t":1100},{"p":3,"m":9.5,"d":1.9,"t":1200},{"p":3,"m":11,"d":1.6,"t":1150},{"p":3,"m":12.5,"d":1.3,"t":1200},{"p":3,"m":14,"d":1.5,"t":1150},{"p":3,"m":10,"d":1.2,"t":1100},{"p":3,"m":15,"d":1.0,"t":1200},{"p":3,"m":16,"d":0.8,"t":1150},{"p":3,"m":13,"d":0.9,"t":1150},{"p":3,"m":17,"d":0.6,"t":1200},{"p":3,"m":18,"d":0.7,"t":1100},{"p":3,"m":20,"d":0.5,"t":1150},{"p":3,"m":22,"d":0.42,"t":1100},{"p":3,"m":24,"d":0.35,"t":1050},{"p":3,"m":19,"d":0.4,"t":1000},{"p":3,"m":26,"d":0.3,"t":950},{"p":3,"m":8,"d":1.5,"t":1000},{"p":3,"m":7.5,"d":2.0,"t":950},{"p":3,"m":5.5,"d":3.0,"t":1000},{"p":3,"m":14,"d":2.0,"t":1150},{"p":3,"m":11,"d":0.8,"t":1050},{"p":3,"m":15,"d":3.0,"t":1150},
{"p":3,"m":9,"d":2.3,"t":1150},{"p":3,"m":10.5,"d":3.4,"t":1200},{"p":3,"m":12,"d":1.8,"t":1200},{"p":3,"m":13.5,"d":1.1,"t":1150},{"p":3,"m":16,"d":1.3,"t":1200},{"p":3,"m":18,"d":0.9,"t":1150},{"p":3,"m":21,"d":0.6,"t":1200},{"p":3,"m":23,"d":0.5,"t":1150},
{"p":3,"m":30,"d":0.27,"t":1000},{"p":3,"m":33,"d":0.28,"t":450},{"p":3,"m":36,"d":0.29,"t":420},{"p":3,"m":40,"d":0.3,"t":500},{"p":3,"m":45,"d":0.35,"t":1150},{"p":3,"m":48,"d":0.31,"t":430},{"p":3,"m":55,"d":0.33,"t":400},{"p":3,"m":62,"d":0.35,"t":450},{"p":3,"m":70,"d":0.37,"t":420},{"p":3,"m":80,"d":0.4,"t":650},{"p":3,"m":90,"d":0.42,"t":430},{"p":3,"m":100,"d":0.45,"t":400},{"p":3,"m":115,"d":0.48,"t":450},{"p":3,"m":130,"d":0.51,"t":420},{"p":3,"m":150,"d":0.55,"t":800},{"p":3,"m":175,"d":0.6,"t":430},{"p":3,"m":200,"d":0.66,"t":400},{"p":3,"m":230,"d":0.72,"t":450},{"p":3,"m":270,"d":0.8,"t":420},{"p":3,"m":320,"d":0.9,"t":430},{"p":3,"m":380,"d":1.0,"t":600},{"p":3,"m":450,"d":1.13,"t":420},{"p":3,"m":540,"d":1.3,"t":450},{"p":3,"m":640,"d":1.5,"t":400},{"p":3,"m":760,"d":1.75,"t":430},{"p":3,"m":900,"d":2.05,"t":420},{"p":3,"m":1050,"d":2.4,"t":1050},{"p":3,"m":1200,"d":2.7,"t":430},{"p":3,"m":1400,"d":3.1,"t":450},{"p":3,"m":1600,"d":3.6,"t":400},{"p":3,"m":1850,"d":4.3,"t":430},{"p":3,"m":2100,"d":5.0,"t":420},{"p":3,"m":2400,"d":5.9,"t":1000},{"p":3,"m":2700,"d":7.0,"t":450},{"p":3,"m":2950,"d":8.3,"t":430},{"p":3,"m":2850,"d":7.8,"t":800},
{"p":3,"m":60,"d":0.36,"t":420},{"p":3,"m":120,"d":0.47,"t":430},{"p":3,"m":250,"d":0.78,"t":440},{"p":3,"m":580,"d":1.35,"t":400},{"p":3,"m":1150,"d":2.5,"t":430},{"p":3,"m":2200,"d":5.4,"t":450},

{"p":4,"m":0.98,"d":6.9,"t":450},{"p":4,"m":1.0,"d":7.0,"t":430},{"p":4,"m":1.05,"d":7.0,"t":460},{"p":4,"m":1.1,"d":7.0,"t":440},{"p":4,"m":1.2,"d":7.1,"t":470},{"p":4,"m":1.35,"d":7.2,"t":450},{"p":4,"m":1.5,"d":7.3,"t":500},{"p":4,"m":1.7,"d":7.4,"t":600},{"p":4,"m":1.9,"d":7.5,"t":700},{"p":4,"m":2.1,"d":7.5,"t":800},{"p":4,"m":2.4,"d":7.6,"t":780},{"p":4,"m":2.7,"d":7.7,"t":850},{"p":4,"m":3.0,"d":7.9,"t":900},{"p":4,"m":3.4,"d":8.0,"t":950},{"p":4,"m":3.9,"d":8.2,"t":1000},{"p":4,"m":4.4,"d":8.4,"t":1050},{"p":4,"m":5.0,"d":8.6,"t":1150},{"p":4,"m":5.7,"d":8.8,"t":1100},{"p":4,"m":6.5,"d":9.0,"t":1200},{"p":4,"m":7.5,"d":9.3,"t":1150},{"p":4,"m":9,"d":9.6,"t":1200},
{"p":4,"m":0.98,"d":2.5,"t":450},{"p":4,"m":1.0,"d":2.0,"t":440},{"p":4,"m":1.02,"d":1.6,"t":460},{"p":4,"m":1.04,"d":2.2,"t":470},{"p":4,"m":1.07,"d":1.8,"t":450},{"p":4,"m":1.1,"d":1.4,"t":440},{"p":4,"m":1.15,"d":2.4,"t":480},{"p":4,"m":1.2,"d":1.9,"t":500},{"p":4,"m":1.3,"d":1.5,"t":480},{"p":4,"m":1.4,"d":2.1,"t":520},{"p":4,"m":1.5,"d":1.7,"t":540},{"p":4,"m":1.7,"d":1.3,"t":520},{"p":4,"m":1.9,"d":1.9,"t":600},{"p":4,"m":2.2,"d":1.5,"t":620},{"p":4,"m":2.5,"d":1.8,"t":680},{"p":4,"m":2.8,"d":1.4,"t":660},{"p":4,"m":3.2,"d":1.7,"t":740},{"p":4,"m":3.6,"d":1.3,"t":720},{"p":4,"m":4.0,"d":1.6,"t":800},{"p":4,"m":1.02,"d":3.5,"t":450},{"p":4,"m":1.05,"d":4.7,"t":440},{"p":4,"m":1.6,"d":2.4,"t":560},{"p":4,"m":2.6,"d":2.3,"t":650},{"p":4,"m":3.3,"d":2.5,"t":600},{"p":4,"m":4.5,"d":2.8,"t":700},
{"p":4,"m":0.98,"d":1.1,"t":430},{"p":4,"m":1.0,"d":0.85,"t":420},{"p":4,"m":1.02,"d":0.7,"t":410},{"p":4,"m":1.04,"d":1.0,"t":430},{"p":4,"m":1.07,"d":0.78,"t":410},{"p":4,"m":1.1,"d":0.62,"t":400},{"p":4,"m":1.2,"d":0.9,"t":430},{"p":4,"m":1.3,"d":0.7,"t":410},{"p":4,"m":1.4,"d":1.05,"t":450},{"p":4,"m":1.5,"d":0.75,"t":430},{"p":4,"m":1.6,"d":0.58,"t":400},{"p":4,"m":1.8,"d":0.9,"t":460},{"p":4,"m":2.0,"d":0.68,"t":430},{"p":4,"m":2.2,"d":1.1,"t":520},{"p":4,"m":2.4,"d":0.75,"t":460},{"p":4,"m":2.7,"d":0.57,"t":430},{"p":4,"m":3.0,"d":0.95,"t":540},{"p":4,"m":3.3,"d":0.7,"t":480},{"p":4,"m":3.7,"d":0.5,"t":440},{"p":4,"m":4.1,"d":0.85,"t":580},{"p":4,"m":4.6,"d":0.62,"t":520},{"p":4,"m":5.2,"d":1.0,"t":700},{"p":4,"m":5.8,"d":0.72,"t":640},{"p":4,"m":6.5,"d":0.55,"t":580},{"p":4,"m":7.2,"d":0.85,"t":780},{"p":4,"m":8.0,"d":0.62,"t":720},{"p":4,"m":9.0,"d":0.48,"t":650},{"p":4,"m":4.8,"d":1.3,"t":780},{"p":4,"m":6.0,"d":1.2,"t":840},
{"p":4,"m":1.15,"d":0.8,"t":420},{"p":4,"m":1.25,"d":1.2,"t":450},{"p":4,"m":1.35,"d":0.6,"t":410},{"p":4,"m":1.55,"d":1.3,"t":480},{"p":4,"m":1.75,"d":0.68,"t":430},{"p":4,"m":2.1,"d":0.85,"t":460},{"p":4,"m":2.3,"d":1.3,"t":560},{"p":4,"m":2.6,"d":0.95,"t":520},{"p":4,"m":2.9,"d":0.68,"t":470},{"p":4,"m":3.5,"d":1.1,"t":620},{"p":4,"m":3.9,"d":0.65,"t":520},{"p":4,"m":4.4,"d":1.1,"t":680},{"p":4,"m":5.0,"d":0.5,"t":540},{"p":4,"m":5.5,"d":0.42,"t":480},{"p":4,"m":6.2,"d":0.9,"t":740},
{"p":4,"m":0.98,"d":0.55,"t":400},{"p":4,"m":1.0,"d":0.5,"t":330},{"p":4,"m":1.02,"d":0.6,"t":380},{"p":4,"m":1.04,"d":0.48,"t":300},{"p":4,"m":1.07,"d":0.58,"t":360},{"p":4,"m":1.1,"d":0.5,"t":320},{"p":4,"m":1.2,"d":0.55,"t":380},{"p":4,"m":1.3,"d":0.47,"t":330},{"p":4,"m":1.45,"d":0.52,"t":380},{"p":4,"m":1.6,"d":0.45,"t":330},{"p":4,"m":1.8,"d":0.5,"t":400},{"p":4,"m":2.0,"d":0.44,"t":340},{"p":4,"m":2.3,"d":0.48,"t":400},{"p":4,"m":2.6,"d":0.4,"t":350},{"p":4,"m":2.9,"d":0.45,"t":420},{"p":4,"m":3.3,"d":0.36,"t":360},{"p":4,"m":3.7,"d":0.42,"t":420},{"p":4,"m":4.2,"d":0.32,"t":370},{"p":4,"m":4.7,"d":0.38,"t":430},{"p":4,"m":5.3,"d":0.29,"t":380},{"p":4,"m":6.0,"d":0.34,"t":450},{"p":4,"m":6.8,"d":0.27,"t":400},{"p":4,"m":7.6,"d":0.31,"t":470},{"p":4,"m":8.5,"d":0.25,"t":420},{"p":4,"m":9.5,"d":0.29,"t":480},{"p":4,"m":11,"d":0.24,"t":430},{"p":4,"m":12.5,"d":0.28,"t":520},{"p":4,"m":14,"d":0.25,"t":470},{"p":4,"m":16,"d":0.3,"t":560},{"p":4,"m":18,"d":0.26,"t":500},{"p":4,"m":21,"d":0.31,"t":600},{"p":4,"m":24,"d":0.27,"t":560},{"p":4,"m":27,"d":0.3,"t":650},{"p":4,"m":10,"d":0.36,"t":550},{"p":4,"m":13,"d":0.34,"t":600},{"p":4,"m":8,"d":0.4,"t":560},{"p":4,"m":17,"d":0.38,"t":650},
{"p":4,"m":1.15,"d":0.55,"t":330},{"p":4,"m":1.7,"d":0.48,"t":350},{"p":4,"m":2.2,"d":0.42,"t":340},{"p":4,"m":2.8,"d":0.38,"t":360},{"p":4,"m":3.5,"d":0.33,"t":360},{"p":4,"m":4.5,"d":0.3,"t":380},{"p":4,"m":5.6,"d":0.27,"t":400},{"p":4,"m":7.2,"d":0.25,"t":420},{"p":4,"m":9,"d":0.23,"t":440},{"p":4,"m":10,"d":0.27,"t":480},{"p":4,"m":12,"d":0.22,"t":460},{"p":4,"m":15,"d":0.23,"t":500},{"p":4,"m":19,"d":0.28,"t":560},{"p":4,"m":23,"d":0.3,"t":600},{"p":4,"m":11,"d":0.31,"t":520},
{"p":4,"m":6.5,"d":1.4,"t":900},{"p":4,"m":8,"d":1.2,"t":920},{"p":4,"m":9,"d":0.9,"t":880},{"p":4,"m":10,"d":0.7,"t":900},{"p":4,"m":11,"d":0.55,"t":850},{"p":4,"m":13,"d":0.55,"t":920},{"p":4,"m":14,"d":0.45,"t":870},{"p":4,"m":16,"d":0.45,"t":950},{"p":4,"m":19,"d":0.38,"t":900},{"p":4,"m":22,"d":0.35,"t":880},{"p":4,"m":5.5,"d":1.9,"t":880},{"p":4,"m":7.5,"d":1.6,"t":950},{"p":4,"m":12,"d":0.42,"t":800},{"p":4,"m":8.5,"d":0.85,"t":900},{"p":4,"m":10,"d":0.5,"t":850},{"p":4,"m":15,"d":0.38,"t":880},
{"p":4,"m":9.5,"d":5.4,"t":1150},{"p":4,"m":8.5,"d":4.8,"t":1100},{"p":4,"m":9,"d":4.2,"t":1200},{"p":4,"m":7.5,"d":3.6,"t":1150},{"p":4,"m":10,"d":3.8,"t":1100},{"p":4,"m":11,"d":3.2,"t":1200},{"p":4,"m":8,"d":3.0,"t":1150},{"p":4,"m":12,"d":2.7,"t":1150},{"p":4,"m":13,"d":3.4,"t":1200},{"p":4,"m":14,"d":2.4,"t":1100},{"p":4,"m":10.5,"d":2.3,"t":1200},{"p":4,"m":9,"d":2.0,"t":1150},{"p":4,"m":11.5,"d":1.8,"t":1100},{"p":4,"m":13,"d":1.5,"t":1200},{"p":4,"m":15,"d":1.7,"t":1150},{"p":4,"m":16,"d":1.2,"t":1200},{"p":4,"m":12,"d":1.1,"t":1150},{"p":4,"m":14,"d":0.9,"t":1100},{"p":4,"m":17,"d":0.85,"t":1200},{"p":4,"m":19,"d":0.7,"t":1150},{"p":4,"m":18,"d":0.55,"t":1100},{"p":4,"m":21,"d":0.5,"t":1150},{"p":4,"m":23,"d":0.42,"t":1100},{"p":4,"m":25,"d":0.38,"t":1050},{"p":4,"m":20,"d":0.4,"t":1000},{"p":4,"m":27,"d":0.34,"t":950},{"p":4,"m":7,"d":2.4,"t":1050},{"p":4,"m":6.5,"d":1.9,"t":1000},{"p":4,"m":6.8,"d":2.8,"t":1050},{"p":4,"m":16,"d":2.0,"t":1150},{"p":4,"m":12,"d":0.75,"t":1050},
{"p":4,"m":10,"d":2.8,"t":1150},{"p":4,"m":11,"d":2.2,"t":1200},{"p":4,"m":12.5,"d":2.0,"t":1150},{"p":4,"m":14,"d":1.3,"t":1200},{"p":4,"m":15,"d":1.05,"t":1150},{"p":4,"m":17,"d":1.3,"t":1100},{"p":4,"m":20,"d":0.6,"t":1200},{"p":4,"m":22,"d":0.55,"t":1150},
{"p":4,"m":30,"d":0.3,"t":1000},{"p":4,"m":33,"d":0.31,"t":450},{"p":4,"m":37,"d":0.32,"t":420},{"p":4,"m":41,"d":0.33,"t":1150},{"p":4,"m":45,"d":0.34,"t":430},{"p":4,"m":50,"d":0.35,"t":400},{"p":4,"m":57,"d":0.37,"t":450},{"p":4,"m":65,"d":0.39,"t":420},{"p":4,"m":75,"d":0.41,"t":600},{"p":4,"m":85,"d":0.43,"t":430},{"p":4,"m":95,"d":0.45,"t":400},{"p":4,"m":110,"d":0.48,"t":450},{"p":4,"m":125,"d":0.52,"t":420},{"p":4,"m":145,"d":0.56,"t":800},{"p":4,"m":170,"d":0.6,"t":430},{"p":4,"m":200,"d":0.64,"t":400},{"p":4,"m":235,"d":0.69,"t":450},{"p":4,"m":280,"d":0.76,"t":420},{"p":4,"m":330,"d":0.84,"t":1000},{"p":4,"m":390,"d":0.92,"t":430},{"p":4,"m":460,"d":1.0,"t":450},{"p":4,"m":550,"d":1.15,"t":420},{"p":4,"m":650,"d":1.35,"t":400},{"p":4,"m":780,"d":1.6,"t":450},{"p":4,"m":920,"d":1.9,"t":430},{"p":4,"m":1100,"d":2.3,"t":600},{"p":4,"m":1300,"d":2.75,"t":420},{"p":4,"m":1550,"d":3.3,"t":450},{"p":4,"m":1800,"d":4.0,"t":400},{"p":4,"m":2100,"d":4.9,"t":430},{"p":4,"m":2450,"d":6.0,"t":420},{"p":4,"m":2800,"d":7.6,"t":450},{"p":4,"m":3000,"d":9.5,"t":430},{"p":4,"m":2700,"d":7.0,"t":1100},{"p":4,"m":1950,"d":4.4,"t":900},
{"p":4,"m":60,"d":0.38,"t":430},{"p":4,"m":120,"d":0.5,"t":420},{"p":4,"m":250,"d":0.72,"t":450},{"p":4,"m":560,"d":1.2,"t":400},{"p":4,"m":1150,"d":2.4,"t":430},{"p":4,"m":2250,"d":5.2,"t":420}
]
},
"resolve":{"scale":{"color":"shared"},"legend":{"color":"shared"}},
"spacing":36,
"hconcat":[
{"concat":[
{"width":221,"height":199,"layer":[
 {"data":{"name":"pts"},"transform":[{"filter":"datum.p==1"}],"mark":{"type":"circle","size":22,"opacity":1},
  "encoding":{
   "x":{"field":"m","type":"quantitative","scale":{"type":"log","domain":[0.75,3000],"nice":false},"axis":{"orient":"bottom","labels":false,"title":null}},
   "y":{"field":"d","type":"quantitative","scale":{"type":"log","domain":[0.001,22],"nice":false},"axis":{"orient":"left","title":"Mean density [ g/cm³ ]"}},
   "color":{"field":"t","type":"quantitative","scale":{"type":"quantize","domain":[0,1200],"nice":false,"range":["#0000ff","#0020ff","#0040ff","#0060ff","#0080ff","#00a0ff","#00c0ff","#00e0ff","#20ffe0","#50ffb0","#80ff80","#b0ff50","#e0ff20","#ffff00","#ffd800","#ffb000","#ff8800","#ff6000","#ff3800","#ff1000"]},"legend":null}}},
 {"data":{"name":"lines"},"transform":[{"filter":"datum.k=='s'"}],"mark":{"type":"line","color":"#a83030","strokeWidth":1.3,"clip":true,"interpolate":"monotone"},
  "encoding":{"x":{"field":"m","type":"quantitative","scale":{"type":"log"},"axis":{"orient":"top","labels":false,"title":null}},"y":{"field":"d","type":"quantitative","scale":{"type":"log"},"axis":{"orient":"right","labels":false,"title":null}}}},
 {"data":{"name":"lines"},"transform":[{"filter":"datum.k=='o'"}],"mark":{"type":"line","color":"#e03030","strokeWidth":1,"strokeDash":[1,2],"clip":true,"interpolate":"monotone"},
  "encoding":{"x":{"field":"m","type":"quantitative","scale":{"type":"log"},"axis":null},"y":{"field":"d","type":"quantitative","scale":{"type":"log"},"axis":null}}},
 {"data":{"values":[{}]},"mark":{"type":"text","font":"Liberation Sans","fontStyle":"italic","fontSize":18,"color":"#e8282a","align":"center","baseline":"middle"},
  "encoding":{"x":{"datum":520,"type":"quantitative","axis":null},"y":{"datum":0.0032,"type":"quantitative","axis":null},"text":{"value":"0.02 Gyr"}}}
 ],"resolve":{"axis":{"x":"independent","y":"independent"}}},
{"width":221,"height":199,"layer":[
 {"data":{"name":"pts"},"transform":[{"filter":"datum.p==2"}],"mark":{"type":"circle","size":22,"opacity":1},
  "encoding":{
   "x":{"field":"m","type":"quantitative","scale":{"type":"log","domain":[0.75,3000],"nice":false},"axis":{"orient":"bottom","labels":false,"title":null}},
   "y":{"field":"d","type":"quantitative","scale":{"type":"log","domain":[0.001,22],"nice":false},"axis":{"orient":"left","labels":false,"title":null}},
   "color":{"field":"t","type":"quantitative","scale":{"type":"quantize","domain":[0,1200],"nice":false,"range":["#0000ff","#0020ff","#0040ff","#0060ff","#0080ff","#00a0ff","#00c0ff","#00e0ff","#20ffe0","#50ffb0","#80ff80","#b0ff50","#e0ff20","#ffff00","#ffd800","#ffb000","#ff8800","#ff6000","#ff3800","#ff1000"]},"legend":null}}},
 {"data":{"name":"lines"},"transform":[{"filter":"datum.k=='s'"}],"mark":{"type":"line","color":"#a83030","strokeWidth":1.3,"clip":true,"interpolate":"monotone"},
  "encoding":{"x":{"field":"m","type":"quantitative","scale":{"type":"log"},"axis":{"orient":"top","labels":false,"title":null}},"y":{"field":"d","type":"quantitative","scale":{"type":"log"},"axis":{"orient":"right","labels":false,"title":null}}}},
 {"data":{"name":"lines"},"transform":[{"filter":"datum.k=='o'"}],"mark":{"type":"line","color":"#e03030","strokeWidth":1,"strokeDash":[1,2],"clip":true,"interpolate":"monotone"},
  "encoding":{"x":{"field":"m","type":"quantitative","scale":{"type":"log"},"axis":null},"y":{"field":"d","type":"quantitative","scale":{"type":"log"},"axis":null}}},
 {"data":{"values":[{}]},"mark":{"type":"text","font":"Liberation Sans","fontStyle":"italic","fontSize":18,"color":"#e8282a","align":"center","baseline":"middle"},
  "encoding":{"x":{"datum":520,"type":"quantitative","axis":null},"y":{"datum":0.0032,"type":"quantitative","axis":null},"text":{"value":"0.11 Gyr"}}}
 ],"resolve":{"axis":{"x":"independent","y":"independent"}}},
{"width":221,"height":199,"layer":[
 {"data":{"name":"pts"},"transform":[{"filter":"datum.p==3"}],"mark":{"type":"circle","size":22,"opacity":1},
  "encoding":{
   "x":{"field":"m","type":"quantitative","scale":{"type":"log","domain":[0.75,3000],"nice":false},"axis":{"orient":"bottom","title":"Mass [ M⊕ ]","titlePadding":3}},
   "y":{"field":"d","type":"quantitative","scale":{"type":"log","domain":[0.001,22],"nice":false},"axis":{"orient":"left","title":"Mean density [ g/cm³ ]"}},
   "color":{"field":"t","type":"quantitative","scale":{"type":"quantize","domain":[0,1200],"nice":false,"range":["#0000ff","#0020ff","#0040ff","#0060ff","#0080ff","#00a0ff","#00c0ff","#00e0ff","#20ffe0","#50ffb0","#80ff80","#b0ff50","#e0ff20","#ffff00","#ffd800","#ffb000","#ff8800","#ff6000","#ff3800","#ff1000"]},"legend":null}}},
 {"data":{"name":"lines"},"transform":[{"filter":"datum.k=='s'"}],"mark":{"type":"line","color":"#a83030","strokeWidth":1.3,"clip":true,"interpolate":"monotone"},
  "encoding":{"x":{"field":"m","type":"quantitative","scale":{"type":"log"},"axis":{"orient":"top","labels":false,"title":null}},"y":{"field":"d","type":"quantitative","scale":{"type":"log"},"axis":{"orient":"right","labels":false,"title":null}}}},
 {"data":{"name":"lines"},"transform":[{"filter":"datum.k=='o'"}],"mark":{"type":"line","color":"#e03030","strokeWidth":1,"strokeDash":[1,2],"clip":true,"interpolate":"monotone"},
  "encoding":{"x":{"field":"m","type":"quantitative","scale":{"type":"log"},"axis":null},"y":{"field":"d","type":"quantitative","scale":{"type":"log"},"axis":null}}},
 {"data":{"values":[{}]},"mark":{"type":"text","font":"Liberation Sans","fontStyle":"italic","fontSize":18,"color":"#e8282a","align":"center","baseline":"middle"},
  "encoding":{"x":{"datum":520,"type":"quantitative","axis":null},"y":{"datum":0.0032,"type":"quantitative","axis":null},"text":{"value":"1 Gyr"}}}
 ],"resolve":{"axis":{"x":"independent","y":"independent"}}},
{"width":221,"height":199,"layer":[
 {"data":{"name":"pts"},"transform":[{"filter":"datum.p==4"}],"mark":{"type":"circle","size":22,"opacity":1},
  "encoding":{
   "x":{"field":"m","type":"quantitative","scale":{"type":"log","domain":[0.75,3000],"nice":false},"axis":{"orient":"bottom","title":"Mass [ M⊕ ]","titlePadding":3}},
   "y":{"field":"d","type":"quantitative","scale":{"type":"log","domain":[0.001,22],"nice":false},"axis":{"orient":"left","labels":false,"title":null}},
   "color":{"field":"t","type":"quantitative","scale":{"type":"quantize","domain":[0,1200],"nice":false,"range":["#0000ff","#0020ff","#0040ff","#0060ff","#0080ff","#00a0ff","#00c0ff","#00e0ff","#20ffe0","#50ffb0","#80ff80","#b0ff50","#e0ff20","#ffff00","#ffd800","#ffb000","#ff8800","#ff6000","#ff3800","#ff1000"]},"legend":null}}},
 {"data":{"name":"lines"},"transform":[{"filter":"datum.k=='s'"}],"mark":{"type":"line","color":"#a83030","strokeWidth":1.3,"clip":true,"interpolate":"monotone"},
  "encoding":{"x":{"field":"m","type":"quantitative","scale":{"type":"log"},"axis":{"orient":"top","labels":false,"title":null}},"y":{"field":"d","type":"quantitative","scale":{"type":"log"},"axis":{"orient":"right","labels":false,"title":null}}}},
 {"data":{"name":"lines"},"transform":[{"filter":"datum.k=='o'"}],"mark":{"type":"line","color":"#e03030","strokeWidth":1,"strokeDash":[1,2],"clip":true,"interpolate":"monotone"},
  "encoding":{"x":{"field":"m","type":"quantitative","scale":{"type":"log"},"axis":null},"y":{"field":"d","type":"quantitative","scale":{"type":"log"},"axis":null}}},
 {"data":{"values":[{}]},"mark":{"type":"text","font":"Liberation Sans","fontStyle":"italic","fontSize":18,"color":"#e8282a","align":"center","baseline":"middle"},
  "encoding":{"x":{"datum":520,"type":"quantitative","axis":null},"y":{"datum":0.0032,"type":"quantitative","axis":null},"text":{"value":"10 Gyr"}}}
 ],"resolve":{"axis":{"x":"independent","y":"independent"}}}
],"columns":2,"spacing":{"row":-2,"column":14}},
{"width":19,"height":376,"view":{"stroke":null},
 "title":{"text":"Teq [K]","orient":"bottom","anchor":"middle","font":"Liberation Serif","fontSize":15,"fontWeight":"normal","color":"black","offset":22,"dx":9},
 "layer":[
 {"data":{"name":"bins"},"mark":{"type":"rect","strokeWidth":1},
  "encoding":{
   "x":{"datum":0,"type":"quantitative","scale":{"domain":[0,1],"nice":false,"zero":false},"axis":null},
   "x2":{"datum":1},
   "y":{"field":"lo","type":"quantitative","scale":{"domain":[0,1226.09],"nice":false},"axis":{"orient":"right","values":[0,200,400,600,800,1000,1200],"format":"d","labelExpr":"datum.label","tickSize":-5,"labelPadding":11,"labelFontSize":14,"labelBaseline":"middle","title":null}},
   "y2":{"field":"hi"},
   "color":{"field":"c","type":"quantitative","scale":{"type":"quantize","domain":[0,1200],"nice":false,"range":["#0000ff","#0020ff","#0040ff","#0060ff","#0080ff","#00a0ff","#00c0ff","#00e0ff","#20ffe0","#50ffb0","#80ff80","#b0ff50","#e0ff20","#ffff00","#ffd800","#ffb000","#ff8800","#ff6000","#ff3800","#ff1000"]},"legend":null},
   "stroke":{"field":"c","type":"quantitative","scale":{"type":"quantize","domain":[0,1200],"nice":false,"range":["#0000ff","#0020ff","#0040ff","#0060ff","#0080ff","#00a0ff","#00c0ff","#00e0ff","#20ffe0","#50ffb0","#80ff80","#b0ff50","#e0ff20","#ffff00","#ffd800","#ffb000","#ff8800","#ff6000","#ff3800","#ff1000"]},"legend":null}}},
 {"data":{"values":[{}]},"mark":{"type":"rect","filled":false,"color":"black","strokeWidth":1},
  "encoding":{
   "x":{"datum":0,"type":"quantitative","axis":null},
   "x2":{"datum":1},
   "y":{"datum":0,"type":"quantitative","axis":{"orient":"left","values":[0,200,400,600,800,1000,1200],"labels":false,"tickSize":-5,"title":null}},
   "y2":{"datum":1200}}}
 ],"resolve":{"axis":{"y":"independent"}}}
],
"config":{
 "view":{"stroke":"black","strokeWidth":1.3},
 "axis":{"domain":false,"grid":false,"tickCount":20,"tickColor":"black","tickWidth":1,
  "tickSize":{"condition":{"test":"abs(log(datum.value)/LN10 - round(log(datum.value)/LN10)) < 0.01","value":-6},"value":-3},
  "labelExpr":"abs(log(datum.value)/LN10 - round(log(datum.value)/LN10)) < 0.01 ? '10' + replace(replace(replace(replace(replace('' + round(log(datum.value)/LN10),'-','⁻'),'0','⁰'),'1','¹'),'2','²'),'3','³') : ''",
  "labelFont":"Liberation Serif","labelFontSize":16,"labelColor":"black","labelOverlap":false,"labelFlush":false,
  "titleFont":"Liberation Serif","titleFontSize":15,"titleFontWeight":"normal","titleColor":"black"},
 "axisX":{"labelPadding":16,"titlePadding":6},
 "axisY":{"labelPadding":9,"titlePadding":10}
}
}
